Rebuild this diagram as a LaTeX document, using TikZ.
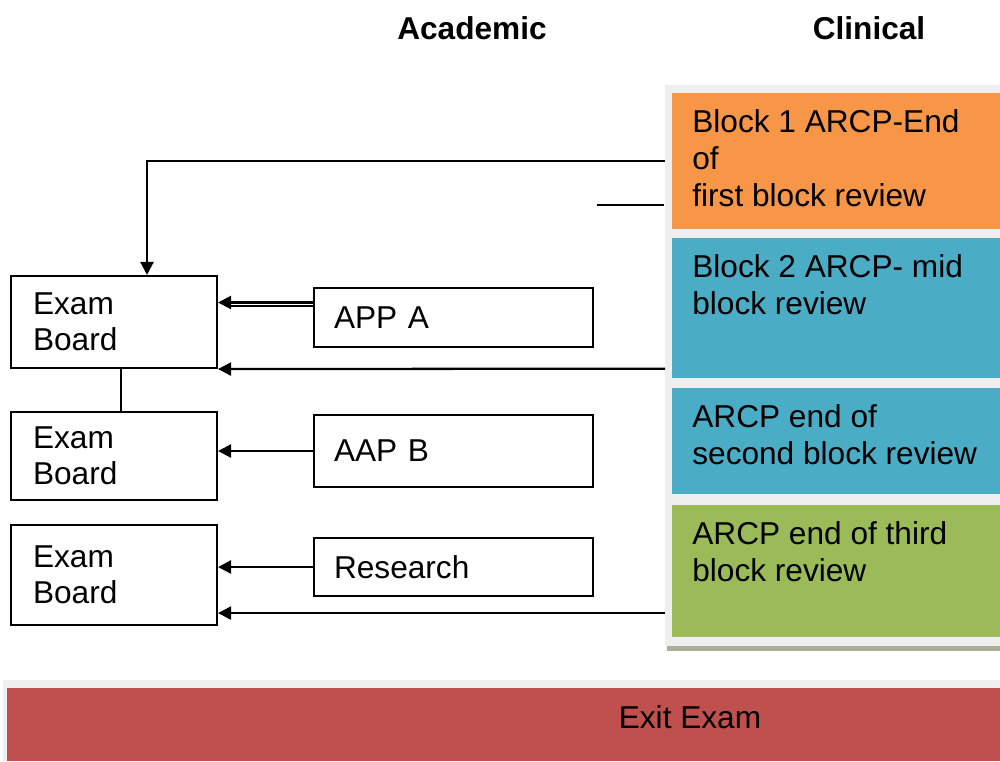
\documentclass[tikz,border=0pt]{standalone}
\usepackage{fontspec}
\setmainfont{Liberation Sans}
\usetikzlibrary{positioning}
\usetikzlibrary{calc,arrows.meta}

\definecolor{blkorange}{HTML}{F79646}
\definecolor{blkblue}{HTML}{4BACC6}
\definecolor{blkgreen}{HTML}{9BBB59}
\definecolor{exitred}{HTML}{C0504D}
\definecolor{panelgray}{HTML}{EFEFEF}
\definecolor{shadowgray}{HTML}{A9B09A}

\begin{document}
\begin{tikzpicture}[x=0.02cm,y=-0.02cm,
		font=\fontsize{18}{20.5}\selectfont,
		exambox/.style={draw=black,line width=1.2pt,align=left,text width=3.24cm,inner xsep=0.44cm,inner ysep=0pt,minimum width=4.12cm},
		acadbox/.style={draw=black,line width=1.2pt,align=left,text width=4.78cm,inner xsep=0.4cm,inner ysep=0pt,minimum width=5.58cm},
		clinbox/.style={anchor=north west,inner sep=0pt,minimum width=6.56cm},
		clintext/.style={anchor=north west,inner sep=0pt,align=left,font=\fontsize{18}{21}\selectfont},
		arr/.style={line width=1.3pt,-{Triangle[length=7.5pt,width=7.5pt]}}]
		\useasboundingbox (0,0) rectangle (1000,761);
		
		% headings
		\node[font=\fontsize{18}{21}\selectfont\bfseries] (acad) at (472,28) {Academic};
		\node[font=\fontsize{18}{21}\selectfont\bfseries] (clin) at (869,28) {Clinical};
		
		% clinical column
		\fill[shadowgray] (667,645) rectangle (1000,651);
		\fill[panelgray] (665,85) rectangle (1000,646);
		\node[clinbox,fill=blkorange,minimum height=2.72cm] (blk1) at (672,93) {};
		\node[clinbox,fill=blkblue,minimum height=2.8cm] (blk2) at (672,238) {};
		\node[clinbox,fill=blkblue,minimum height=2.12cm] (blk3) at (672,388) {};
		\node[clinbox,fill=blkgreen,minimum height=2.64cm] (blk4) at (672,505) {};
		\node[clintext] (t1) at ($(blk1.north west)+(20,16)$) {Block 1 ARCP-End\\of\\first block review};
		\node[clintext] (t2) at ($(blk2.north west)+(20,16)$) {Block 2 ARCP- mid\\block review};
		\node[clintext] (t3) at ($(blk3.north west)+(20,16)$) {ARCP end of\\second block review};
		\node[clintext] (t4) at ($(blk4.north west)+(20,16)$) {ARCP end of third\\block review};
		
		% exam boards
		\node[exambox,minimum height=1.84cm] (eba) at (114,322) {Exam\\Board};
		\node[exambox,minimum height=1.76cm] (ebb) at (114,456) {Exam\\Board};
		\node[exambox,minimum height=2cm] (ebc) at (114,575) {Exam\\Board};
		
		% academic parts
		\node[acadbox,minimum height=1.18cm] (appa) at (453.5,317.5) {APP A};
		\node[acadbox,minimum height=1.44cm] (aapb) at (453.5,451) {AAP B};
		\node[acadbox,minimum height=1.16cm] (res) at (453.5,567) {Research};
		
		% exit exam
		\fill[panelgray] (3,680) rectangle (1000,761);
		\node[anchor=north west,inner sep=0pt,fill=exitred,minimum width=19.86cm,minimum height=1.46cm] (exit) at (7,688) {};
		\node (exittxt) at (690,717) {Exit Exam};
		
		% connectors
		\draw[arr] ($(blk1.west)+(-7,0)$) -| ($(eba.north)+(33,0)$);
		\coordinate (stub) at ($(blk1.west)+(-75,44)$);
		\draw[line width=1.3pt] (stub) -- ++(67,0);
		\draw[arr] ($(appa.west)+(0,-15)$) -- ($(appa.west -| eba.east)+(0,-15)$);
		\draw[line width=1.3pt] ($(appa.west)+(0,-11.5)$) -- ($(appa.west -| eba.east)+(8,-11.5)$);
		\draw[arr] ($(blk2.south west)+(-7,-10)$) -- (eba.south east);
		\draw[line width=1.3pt] ($(eba.south)+(7,0)$) -- ($(ebb.north)+(7,0)$);
		\draw[arr] (aapb.west) -- (aapb.west -| ebb.east);
		\draw[arr] (res.west) -- (res.west -| ebc.east);
		\draw[arr] ($(blk4.west |- ebc.south)+(-7,-13)$) -- ($(ebc.south east)+(0,-13)$);
	\end{tikzpicture}
\end{document}
